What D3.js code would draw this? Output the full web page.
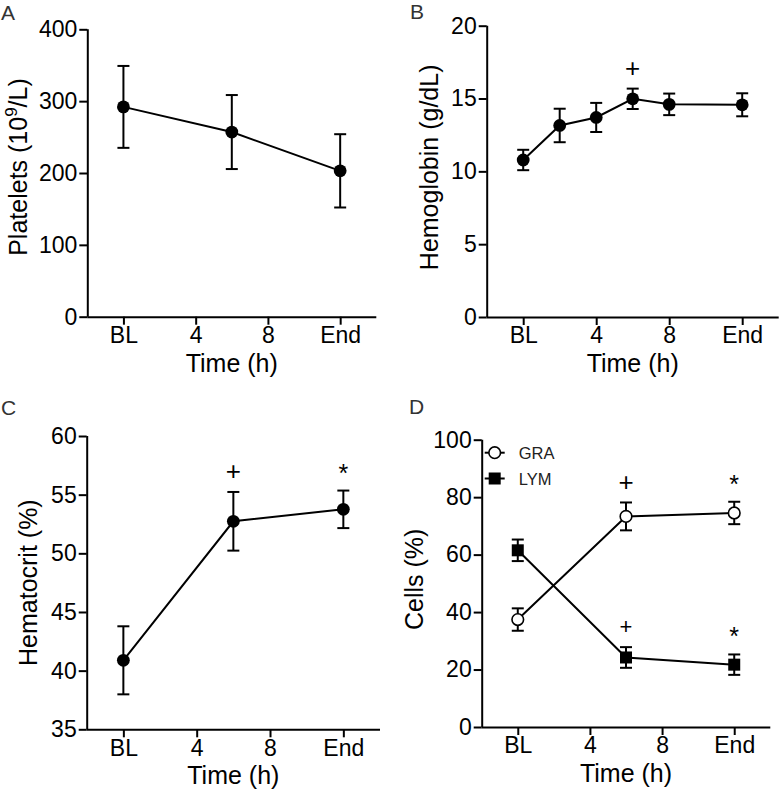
<!DOCTYPE html>
<html>
<head>
<meta charset="utf-8">
<script src="https://cdn.jsdelivr.net/npm/d3@7"></script>
<style>
  html, body { margin: 0; padding: 0; background: #fff; }
  svg { display: block; }
  text { font-family: "Liberation Sans", Arial, Helvetica, sans-serif; }
</style>
</head>
<body>
<svg id="chart" width="780" height="794"></svg>
<script>
// ---------- DATA ----------
const xTickValues = [0, 4, 8, 12];
const xTickLabels = ["BL", "4", "8", "End"];

// Panel A: Platelets
const plateletTimes = [0, 6, 12];
const plateletMean = [292, 257, 203];
const plateletErr = [57, 51.5, 51];
const plateletTicks = [0, 100, 200, 300, 400];

// Panel B: Hemoglobin
const hbTimes = [0, 2, 4, 6, 8, 12];
const hbMean = [10.78, 13.15, 13.7, 14.98, 14.6, 14.57];
const hbErr = [0.7, 1.15, 1.0, 0.7, 0.74, 0.79];
const hbTicks = [0, 5, 10, 15, 20];
const hbMarks = [null, null, null, "+", null, null];

// Panel C: Hematocrit
const hctTimes = [0, 6, 12];
const hctMean = [40.88, 52.73, 53.75];
const hctErr = [2.9, 2.5, 1.6];
const hctTicks = [35, 40, 45, 50, 55, 60];
const hctMarks = [null, "+", "*"];

// Panel D: Cells
const cellTimes = [0, 6, 12];
const graMean = [37.4, 73.3, 74.5];
const graErr = [3.9, 4.85, 3.9];
const lymMean = [61.5, 24.2, 21.7];
const lymErr = [3.75, 3.6, 3.55];
const cellTicks = [0, 20, 40, 60, 80, 100];
const graMarks = [null, "+", "*"];
const lymMarks = [null, "+", "*"];

// ---------- DRAWING ----------
const svg = d3.select("#chart");
const tickFont = 23, titleFont = 25;

function panel(cfg) {
  const g = svg.append("g");
  const x = d3.scaleLinear().domain([-2, 14]).range([cfg.left, cfg.left + cfg.width]);
  const y = d3.scaleLinear().domain(cfg.yDomain).range([cfg.top + cfg.height, cfg.top]);

  const xAxis = d3.axisBottom(x).tickValues(xTickValues)
    .tickFormat((d, i) => xTickLabels[i]).tickSize(8).tickSizeOuter(0).tickPadding(2);
  const yAxis = d3.axisLeft(y).tickValues(cfg.yTicks).tickSize(8).tickSizeOuter(0).tickPadding(2);

  const gx = g.append("g").attr("transform", `translate(0,${cfg.top + cfg.height})`).call(xAxis);
  const gy = g.append("g").attr("transform", `translate(${cfg.left},0)`).call(yAxis);
  [gx, gy].forEach(a => {
    a.attr("font-size", tickFont).attr("font-family", '"Liberation Sans", Arial, sans-serif');
    a.selectAll("path, line").attr("stroke", "#000").attr("stroke-width", 2);
    a.selectAll("text").attr("font-size", tickFont).attr("fill", "#000");
  });
  gx.select(".domain").attr("d", `M${cfg.left},0.5H${cfg.left + cfg.width}`);
  gy.select(".domain").attr("d", `M0.5,${cfg.top}V${cfg.top + cfg.height}`);

  g.append("text")
    .attr("x", cfg.left + cfg.width / 2)
    .attr("y", cfg.top + cfg.height + 55)
    .attr("text-anchor", "middle").attr("font-size", titleFont).text("Time (h)");

  const yt = g.append("text")
    .attr("transform", `translate(${cfg.left - cfg.yTitleOffset},${cfg.top + cfg.height / 2 + cfg.yTitleShift}) rotate(-90)`)
    .attr("text-anchor", "middle").attr("font-size", titleFont);
  cfg.yTitle(yt);

  g.append("text").attr("x", cfg.letterX).attr("y", cfg.letterY)
    .attr("font-size", 21).attr("fill", "#333").text(cfg.letter);

  cfg.series.forEach(s => {
    const pts = s.times.map((t, i) => ({ t, m: s.mean[i], e: s.err[i], mark: s.marks ? s.marks[i] : null }));
    const line = d3.line().x(d => x(d.t)).y(d => y(d.m));
    g.append("path").datum(pts).attr("d", line)
      .attr("fill", "none").attr("stroke", "#000").attr("stroke-width", 2);

    const eb = g.append("g").selectAll("g").data(pts).join("g");
    eb.append("line").attr("x1", d => x(d.t)).attr("x2", d => x(d.t))
      .attr("y1", d => y(d.m + d.e)).attr("y2", d => y(d.m - d.e))
      .attr("stroke", "#000").attr("stroke-width", 2);
    [1, -1].forEach(sgn => {
      eb.append("line").attr("x1", d => x(d.t) - 6).attr("x2", d => x(d.t) + 6)
        .attr("y1", d => y(d.m + sgn * d.e)).attr("y2", d => y(d.m + sgn * d.e))
        .attr("stroke", "#000").attr("stroke-width", 2);
    });

    drawMarker(g.append("g"), pts.map(d => [x(d.t), y(d.m)]), s.shape);

    const plusSize = s.plusSize || 26, starSize = 25;
    g.append("g").selectAll("text").data(pts.filter(d => d.mark)).join("text")
      .attr("x", d => x(d.t))
      .attr("y", d => {
        const top = y(d.m + d.e);
        if (d.mark === "+") return top - 21 + 0.35 * plusSize;
        return top - 23.5 + 0.58 * starSize;
      })
      .attr("text-anchor", "middle")
      .attr("font-size", d => d.mark === "+" ? plusSize : starSize)
      .text(d => d.mark);
  });

  if (cfg.legend) {
    cfg.legend.forEach(L => {
      const ly = L.y;
      g.append("line").attr("x1", cfg.left + 3).attr("x2", cfg.left + 23)
        .attr("y1", ly).attr("y2", ly).attr("stroke", "#000").attr("stroke-width", 2);
      drawMarker(g.append("g"), [[cfg.left + 13, ly]], L.shape);
      g.append("text").attr("x", cfg.left + 37).attr("y", ly + 6)
        .attr("font-size", 16.5).attr("fill", "#222").text(L.label);
    });
  }
}

function drawMarker(sel, coords, shape) {
  if (shape === "square") {
    sel.selectAll("rect").data(coords).join("rect")
      .attr("x", d => d[0] - 6).attr("y", d => d[1] - 6)
      .attr("width", 12).attr("height", 12).attr("fill", "#000");
  } else if (shape === "open") {
    sel.selectAll("circle").data(coords).join("circle")
      .attr("cx", d => d[0]).attr("cy", d => d[1]).attr("r", 5.8)
      .attr("fill", "#fff").attr("stroke", "#000").attr("stroke-width", 1.6);
  } else {
    sel.selectAll("circle").data(coords).join("circle")
      .attr("cx", d => d[0]).attr("cy", d => d[1]).attr("r", 6.4).attr("fill", "#000");
  }
}

panel({
  left: 87.3, top: 29.3, width: 289, height: 287.4, yDomain: [0, 400], yTicks: plateletTicks,
  yTitleOffset: 60.6, yTitleShift: -6, letter: "A", letterX: 1, letterY: 19.5,
  yTitle: t => {
    t.append("tspan").text("Platelets (10");
    t.append("tspan").attr("font-size", 17).attr("dy", -10).text("9");
    t.append("tspan").attr("dy", 10).text("/L)");
  },
  series: [{ times: plateletTimes, mean: plateletMean, err: plateletErr, shape: "filled" }]
});

panel({
  left: 486.7, top: 25.7, width: 292, height: 291.3, yDomain: [0, 20], yTicks: hbTicks,
  yTitleOffset: 48.4, yTitleShift: -4, letter: "B", letterX: 410, letterY: 18.5,
  yTitle: t => t.text("Hemoglobin (g/dL)"),
  series: [{ times: hbTimes, mean: hbMean, err: hbErr, shape: "filled", marks: hbMarks }]
});

panel({
  left: 86.7, top: 436, width: 293.3, height: 293.3, yDomain: [35, 60], yTicks: hctTicks,
  yTitleOffset: 50, yTitleShift: 0, letter: "C", letterX: 1, letterY: 415.3,
  yTitle: t => t.text("Hematocrit (%)"),
  series: [{ times: hctTimes, mean: hctMean, err: hctErr, shape: "filled", marks: hctMarks }]
});

panel({
  left: 481.7, top: 439.7, width: 288.6, height: 287.3, yDomain: [0, 100], yTicks: cellTicks,
  yTitleOffset: 58.4, yTitleShift: -4, letter: "D", letterX: 409, letterY: 413.7,
  yTitle: t => t.text("Cells (%)"),
  series: [
    { times: cellTimes, mean: graMean, err: graErr, shape: "open", marks: graMarks, plusSize: 26 },
    { times: cellTimes, mean: lymMean, err: lymErr, shape: "square", marks: lymMarks, plusSize: 22 }
  ],
  legend: [
    { label: "GRA", shape: "open", y: 452.7 },
    { label: "LYM", shape: "square", y: 478.5 }
  ]
});
</script>
</body>
</html>
